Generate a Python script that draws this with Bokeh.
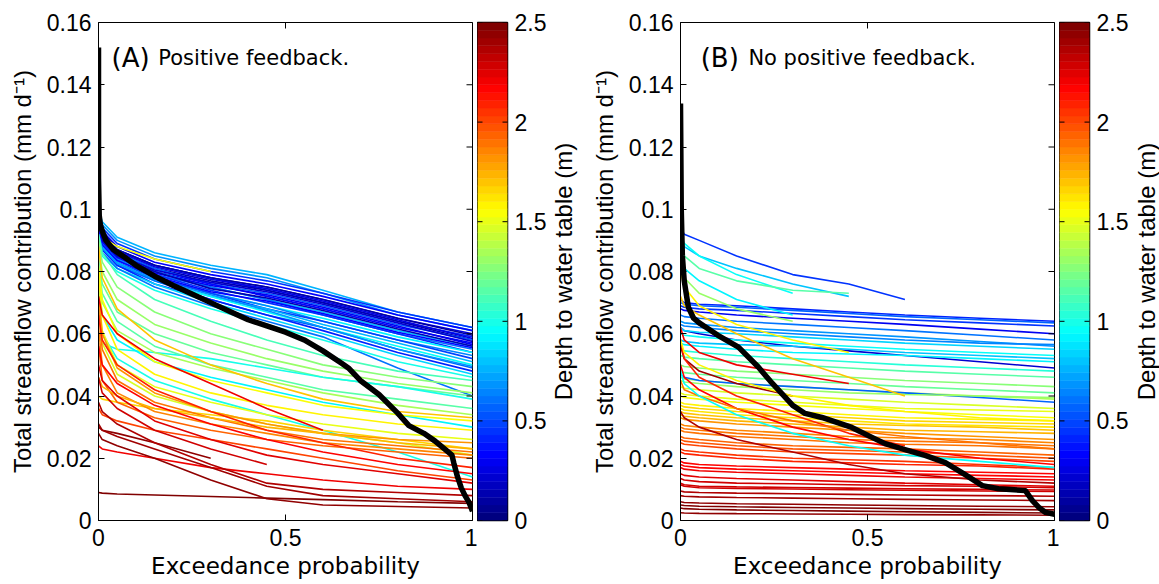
import math
from bokeh.plotting import figure
from bokeh.layouts import row
from bokeh.models import Range1d, FixedTicker, NumeralTickFormatter, Label, ColumnDataSource
from bokeh.transform import linear_cmap
from bokeh.embed import file_html
from bokeh.resources import INLINE

# ---------------- data ----------------
X_GRID = [0, 0.01, 0.05, 0.15, 0.3, 0.45, 0.6, 0.8, 1.0]
X_TICKS = [0, 0.5, 1]
Y_TICKS = [0, 0.02, 0.04, 0.06, 0.08, 0.1, 0.12, 0.14, 0.16]
CB_TICKS = [0, 0.5, 1, 1.5, 2, 2.5]
DEPTH_LOW, DEPTH_HIGH = 0.0, 2.5

# Panel A: blue/cyan cluster above the mean curve
A_UPPER_DEPTH = [0.75, 0.70, 0.45, 0.35, 0.25, 0.40, 0.15, 0.55, 0.35, 0.80, 0.60, 0.45,
                 0.90, 0.65, 0.50, 0.75, 0.95, 0.55, 0.40, 0.85, 0.60, 1.00, 0.10, 1.55,
                 0.25, 0.20, 0.30, 0.15, 0.35, 0.70]
A_UPPER_Y = [
    [0.100, 0.096, 0.091, 0.086, 0.082, 0.079, 0.074, 0.067, 0.062],
    [0.099, 0.095, 0.090, 0.085, 0.081, 0.078, 0.073, 0.066, 0.061],
    [0.098, 0.094, 0.089, 0.084, 0.080, 0.077, 0.073, 0.067, 0.062],
    [0.097, 0.093, 0.088, 0.083, 0.079, 0.076, 0.072, 0.066, 0.061],
    [0.097, 0.092, 0.087, 0.082, 0.078, 0.075, 0.071, 0.065, 0.060],
    [0.096, 0.092, 0.087, 0.082, 0.078, 0.074, 0.070, 0.064, 0.059],
    [0.096, 0.091, 0.086, 0.081, 0.077, 0.074, 0.070, 0.064, 0.058],
    [0.095, 0.091, 0.086, 0.081, 0.076, 0.073, 0.069, 0.063, 0.058],
    [0.095, 0.090, 0.085, 0.080, 0.076, 0.072, 0.068, 0.062, 0.057],
    [0.096, 0.091, 0.086, 0.080, 0.075, 0.071, 0.067, 0.061, 0.056],
    [0.094, 0.090, 0.085, 0.079, 0.075, 0.071, 0.066, 0.060, 0.055],
    [0.094, 0.089, 0.084, 0.079, 0.074, 0.070, 0.066, 0.060, 0.054],
    [0.095, 0.090, 0.084, 0.078, 0.073, 0.069, 0.065, 0.059, 0.054],
    [0.093, 0.089, 0.084, 0.078, 0.073, 0.069, 0.064, 0.058, 0.053],
    [0.093, 0.088, 0.083, 0.078, 0.073, 0.068, 0.064, 0.058, 0.052],
    [0.093, 0.088, 0.083, 0.077, 0.072, 0.068, 0.063, 0.057, 0.051],
    [0.094, 0.088, 0.082, 0.077, 0.072, 0.067, 0.062, 0.056, 0.050],
    [0.092, 0.087, 0.082, 0.077, 0.071, 0.066, 0.062, 0.055, 0.049],
    [0.092, 0.087, 0.082, 0.076, 0.071, 0.066, 0.061, 0.054, 0.048],
    [0.091, 0.086, 0.081, 0.076, 0.070, 0.065, 0.060, 0.053, 0.047],
    [0.091, 0.086, 0.081, 0.075, 0.069, 0.064, 0.059, 0.049, 0.040],
    [0.090, 0.085, 0.080, 0.074, 0.068, 0.063, 0.058, 0.051, 0.046],
    [0.097, 0.093, 0.087, 0.082, 0.078, 0.075, 0.071, 0.065, 0.0595],
    [0.094, 0.091, 0.088, 0.084, 0.080],
    [0.096, 0.092, 0.0865, 0.0815, 0.0775, 0.0745, 0.0705, 0.0645, 0.0585],
    [0.095, 0.0905, 0.0855, 0.0805, 0.0765, 0.0735, 0.0695, 0.0635, 0.0575],
    [0.094, 0.0895, 0.0845, 0.0795, 0.0755, 0.0725, 0.0685, 0.0625, 0.0565],
    [0.095, 0.090, 0.085, 0.080, 0.0745, 0.0715, 0.0675, 0.0615, 0.056],
    [0.093, 0.0885, 0.0835, 0.0785, 0.0735, 0.0705, 0.0665, 0.0605, 0.0555],
    [0.092, 0.0875, 0.0825, 0.0775, 0.0725, 0.0675, 0.062, 0.055, 0.0495],
]

# Panel A: green / yellow / orange / red curves below the mean curve
A_LOWER_DEPTH = [1.10, 1.25, 1.30, 1.20, 1.00, 1.15, 1.35, 0.90, 1.00,
                 1.55, 1.60, 1.50, 1.65, 1.45, 1.80, 1.90, 1.85, 1.95, 1.75, 2.00, 1.70,
                 2.20, 2.15, 2.25, 2.20, 2.30, 2.10, 2.45, 2.40, 2.50, 2.45, 2.35]
A_LOWER_Y = [
    [0.092, 0.086, 0.079, 0.071, 0.064, 0.058, 0.053, 0.048, 0.045],
    [0.090, 0.083, 0.075, 0.067, 0.060, 0.055, 0.050, 0.046, 0.043],
    [0.088, 0.080, 0.071, 0.063, 0.057, 0.052, 0.048, 0.044, 0.041],
    [0.085, 0.076, 0.067, 0.060, 0.054, 0.050, 0.046, 0.043, 0.040],
    [0.060, 0.057, 0.055, 0.054, 0.052, 0.049, 0.046, 0.043, 0.039],
    [0.083, 0.073, 0.064, 0.056, 0.050, 0.046, 0.042, 0.039, 0.036],
    [0.080, 0.070, 0.061, 0.054, 0.049, 0.045, 0.041, 0.037, 0.034],
    [0.075, 0.066, 0.058, 0.051, 0.046, 0.042, 0.038, 0.034, 0.030],
    [0.068, 0.060, 0.052, 0.045, 0.039, 0.034, 0.029, 0.022, 0.014],
    [0.082, 0.071, 0.060, 0.051, 0.045, 0.041, 0.037, 0.034, 0.032],
    [0.078, 0.066, 0.055, 0.047, 0.041, 0.037, 0.034, 0.031, 0.029],
    [0.074, 0.061, 0.050, 0.043, 0.038, 0.034, 0.031, 0.028, 0.026],
    [0.040, 0.039, 0.038, 0.036, 0.034, 0.032, 0.029, 0.026, 0.023],
    [0.070, 0.057, 0.047, 0.040, 0.035, 0.031, 0.028, 0.025, 0.021],
    [0.072, 0.060, 0.049, 0.041, 0.035, 0.031, 0.028, 0.026, 0.025],
    [0.068, 0.055, 0.045, 0.038, 0.033, 0.029, 0.026, 0.024, 0.022],
    [0.062, 0.050, 0.041, 0.035, 0.031, 0.028, 0.025, 0.023, 0.021],
    [0.057, 0.045, 0.038, 0.033, 0.029, 0.026, 0.024, 0.022, 0.020],
    [0.046, 0.043, 0.040, 0.036, 0.033, 0.030, 0.028, 0.025, 0.023],
    [0.036, 0.034, 0.032, 0.029, 0.026, 0.023, 0.020, 0.016, 0.013],
    [0.088, 0.078, 0.068, 0.058, 0.050, 0.044, 0.039, 0.035, 0.033],
    [0.072, 0.066, 0.060, 0.052, 0.044, 0.036, 0.029],
    [0.056, 0.050, 0.044, 0.037, 0.031, 0.026, 0.022, 0.018, 0.015],
    [0.050, 0.045, 0.040, 0.032, 0.026, 0.021, 0.018, 0.015, 0.012],
    [0.024, 0.023, 0.022, 0.020, 0.017, 0.015, 0.013, 0.011, 0.010],
    [0.046, 0.041, 0.036, 0.029, 0.023, 0.018],
    [0.066, 0.058, 0.050, 0.042, 0.035, 0.029, 0.025, 0.020, 0.017],
    [0.030, 0.029, 0.028, 0.025, 0.020],
    [0.031, 0.029, 0.027, 0.023, 0.017, 0.011, 0.008, 0.007, 0.006],
    [0.009, 0.0088, 0.0085, 0.0082, 0.0077, 0.0072, 0.0067, 0.006, 0.0055],
    [0.028, 0.026, 0.024, 0.020, 0.013, 0.007, 0.005, 0.0045, 0.004],
    [0.038, 0.035, 0.031, 0.025, 0.018, 0.012, 0.010, 0.009, 0.008],
]

# Panel A: mean curve (thick black)
A_MEAN_X = [0, 0, 0.002, 0.005, 0.01, 0.02, 0.04, 0.07, 0.1, 0.15, 0.2, 0.25, 0.3, 0.35, 0.4,
            0.45, 0.5, 0.55, 0.6, 0.65, 0.67, 0.7, 0.75, 0.8, 0.83, 0.87, 0.9, 0.93, 0.945,
            0.95, 0.96, 0.97, 0.98, 0.99, 1.0]
A_MEAN_Y = [0.152, 0.11, 0.098, 0.095, 0.093, 0.090, 0.087, 0.0846, 0.082, 0.0785, 0.0755,
            0.0728, 0.0700, 0.0672, 0.0645, 0.0625, 0.0605, 0.058, 0.0545, 0.0505, 0.0488,
            0.045, 0.0405, 0.0345, 0.0305, 0.0280, 0.0255, 0.0225, 0.021, 0.0185, 0.014,
            0.0105, 0.008, 0.006, 0.003]

# Panel B: declining curves that end early or cross the bands
B_CURVED_DEPTH = [0.45, 0.80, 0.95, 1.15, 0.90, 1.30, 1.60, 1.70, 2.20, 2.40, 2.10, 2.15,
                  1.90, 2.35, 1.60, 0.95]
B_CURVED_Y = [
    [0.094, 0.092, 0.090, 0.085, 0.079, 0.076, 0.071],
    [0.090, 0.088, 0.085, 0.081, 0.076, 0.072],
    [0.092, 0.089, 0.085, 0.079, 0.073],
    [0.088, 0.085, 0.081, 0.077, 0.074, 0.073],
    [0.085, 0.081, 0.077, 0.071, 0.066],
    [0.082, 0.078, 0.073, 0.068, 0.064],
    [0.080, 0.075, 0.069, 0.063, 0.058, 0.054],
    [0.072, 0.069, 0.066, 0.060, 0.052, 0.046, 0.040],
    [0.062, 0.058, 0.054, 0.050, 0.047, 0.044],
    [0.056, 0.052, 0.048, 0.044, 0.040],
    [0.058, 0.052, 0.046, 0.040, 0.034, 0.028, 0.024],
    [0.050, 0.046, 0.042, 0.036, 0.030, 0.026, 0.023, 0.020, 0.018],
    [0.045, 0.042, 0.040, 0.036, 0.032, 0.029, 0.027, 0.025, 0.023],
    [0.035, 0.033, 0.030, 0.026, 0.022, 0.018, 0.015, 0.013, 0.012],
    [0.058, 0.054, 0.050, 0.045, 0.040, 0.037, 0.035, 0.033, 0.032],
    [0.048, 0.044, 0.040, 0.034, 0.028, 0.024, 0.021, 0.019, 0.017],
]

# Panel B: nearly flat curves (stratified by depth)
B_FLAT_DEPTH = [0.40, 0.55, 0.30, 0.60, 0.70, 0.20, 0.85, 0.95, 0.90, 0.80,
                1.15, 1.25, 1.35, 1.20, 0.55, 1.45, 1.55, 1.65, 1.70, 1.60,
                1.80, 1.85, 1.90, 1.95, 2.00, 2.05, 2.15, 2.20, 2.25, 2.30, 2.30,
                2.40, 2.45, 2.50, 2.45,
                0.45, 0.65, 1.05, 1.30, 1.50, 1.62, 1.75, 1.88, 1.98, 2.08, 2.18, 2.28,
                2.35, 2.48]
B_FLAT_Y = [
    [0.071, 0.070, 0.0695, 0.069, 0.068, 0.067, 0.066, 0.065, 0.064],
    [0.070, 0.0695, 0.069, 0.0685, 0.0675, 0.0665, 0.0655, 0.0645, 0.0635],
    [0.068, 0.0675, 0.067, 0.066, 0.065, 0.064, 0.063, 0.0615, 0.060],
    [0.066, 0.0655, 0.065, 0.064, 0.063, 0.062, 0.061, 0.0595, 0.058],
    [0.064, 0.0635, 0.063, 0.062, 0.061, 0.060, 0.059, 0.0575, 0.056],
    [0.062, 0.061, 0.060, 0.058, 0.056, 0.0545, 0.053, 0.051, 0.049],
    [0.062, 0.061, 0.0605, 0.060, 0.059, 0.058, 0.057, 0.056, 0.055],
    [0.060, 0.0595, 0.059, 0.058, 0.057, 0.056, 0.055, 0.054, 0.053],
    [0.057, 0.0565, 0.056, 0.055, 0.054, 0.0535, 0.053, 0.052, 0.051],
    [0.058, 0.0575, 0.057, 0.0565, 0.056, 0.055, 0.054, 0.053, 0.052],
    [0.053, 0.0525, 0.052, 0.051, 0.050, 0.049, 0.048, 0.047, 0.046],
    [0.050, 0.0495, 0.049, 0.048, 0.047, 0.046, 0.045, 0.044, 0.043],
    [0.046, 0.0455, 0.045, 0.044, 0.043, 0.042, 0.041, 0.040, 0.039],
    [0.048, 0.0475, 0.047, 0.046, 0.045, 0.044, 0.043, 0.042, 0.041],
    [0.047, 0.046, 0.045, 0.044, 0.043, 0.042, 0.041, 0.0395, 0.038],
    [0.043, 0.0425, 0.042, 0.041, 0.040, 0.039, 0.038, 0.037, 0.036],
    [0.040, 0.0395, 0.039, 0.038, 0.037, 0.036, 0.035, 0.034, 0.033],
    [0.037, 0.0365, 0.036, 0.035, 0.034, 0.033, 0.032, 0.0315, 0.031],
    [0.035, 0.0345, 0.034, 0.033, 0.032, 0.031, 0.0305, 0.030, 0.029],
    [0.038, 0.0375, 0.037, 0.036, 0.035, 0.034, 0.033, 0.0325, 0.032],
    [0.033, 0.0325, 0.032, 0.031, 0.030, 0.029, 0.028, 0.027, 0.026],
    [0.031, 0.0305, 0.030, 0.029, 0.028, 0.027, 0.0265, 0.026, 0.025],
    [0.029, 0.0285, 0.028, 0.027, 0.026, 0.025, 0.0245, 0.024, 0.023],
    [0.027, 0.0265, 0.026, 0.025, 0.024, 0.0235, 0.023, 0.022, 0.021],
    [0.025, 0.0245, 0.024, 0.023, 0.022, 0.0215, 0.021, 0.020, 0.019],
    [0.023, 0.0225, 0.022, 0.021, 0.020, 0.0195, 0.019, 0.018, 0.017],
    [0.019, 0.0185, 0.018, 0.0175, 0.017, 0.0165, 0.016, 0.0155, 0.015],
    [0.017, 0.0165, 0.016, 0.0155, 0.015, 0.0145, 0.014, 0.0135, 0.013],
    [0.015, 0.0145, 0.014, 0.0135, 0.013, 0.0125, 0.012, 0.0115, 0.011],
    [0.012, 0.0115, 0.011, 0.0108, 0.0106, 0.0104, 0.0102, 0.010, 0.0098],
    [0.0115, 0.011, 0.0105, 0.0103, 0.0101, 0.0099, 0.0097, 0.0095, 0.0093],
    [0.008, 0.0078, 0.0076, 0.0074, 0.0072, 0.007, 0.0068, 0.0066, 0.0064],
    [0.006, 0.0058, 0.0056, 0.0054, 0.0052, 0.005, 0.0048, 0.0046, 0.0044],
    [0.004, 0.0038, 0.0036, 0.0034, 0.0032, 0.003, 0.0028, 0.0026, 0.0024],
    [0.0025, 0.0024, 0.0023, 0.0022, 0.0021, 0.002, 0.0019, 0.0018, 0.0017],
    [0.069, 0.0685, 0.068, 0.0675, 0.0665, 0.0655, 0.0645, 0.0635, 0.0625],
    [0.063, 0.0625, 0.062, 0.061, 0.060, 0.059, 0.058, 0.057, 0.0565],
    [0.055, 0.0545, 0.054, 0.053, 0.052, 0.051, 0.050, 0.049, 0.048],
    [0.045, 0.0445, 0.044, 0.043, 0.042, 0.041, 0.0405, 0.040, 0.0395],
    [0.041, 0.0405, 0.040, 0.039, 0.038, 0.037, 0.036, 0.0355, 0.035],
    [0.036, 0.0355, 0.035, 0.034, 0.033, 0.032, 0.031, 0.0305, 0.030],
    [0.034, 0.0335, 0.033, 0.032, 0.031, 0.030, 0.029, 0.0285, 0.028],
    [0.030, 0.0295, 0.029, 0.028, 0.027, 0.026, 0.0255, 0.025, 0.024],
    [0.026, 0.0255, 0.025, 0.024, 0.023, 0.0225, 0.022, 0.021, 0.020],
    [0.022, 0.0215, 0.021, 0.020, 0.019, 0.0185, 0.018, 0.0175, 0.0165],
    [0.018, 0.0175, 0.017, 0.0165, 0.016, 0.0155, 0.015, 0.0145, 0.014],
    [0.0135, 0.013, 0.0125, 0.012, 0.0118, 0.0115, 0.0112, 0.011, 0.0105],
    [0.0095, 0.0092, 0.009, 0.0088, 0.0086, 0.0084, 0.0082, 0.008, 0.0078],
    [0.005, 0.0048, 0.0046, 0.0044, 0.0042, 0.004, 0.0038, 0.0036, 0.0034],
]

# Panel B: mean curve (thick black)
B_MEAN_X = [0, 0.002, 0.005, 0.01, 0.021, 0.035, 0.05, 0.075, 0.1, 0.155, 0.208, 0.24, 0.271,
            0.3, 0.333, 0.378, 0.458, 0.512, 0.547, 0.6, 0.654, 0.708, 0.76, 0.807, 0.85,
            0.922, 0.941, 0.96, 0.976, 1.0]
B_MEAN_Y = [0.134, 0.1, 0.085, 0.077, 0.0685, 0.065, 0.0635, 0.0615, 0.0595, 0.0557, 0.0493,
            0.0448, 0.0408, 0.037, 0.0344, 0.0331, 0.0299, 0.0267, 0.0247, 0.0228, 0.0209,
            0.0186, 0.0148, 0.0112, 0.0102, 0.0096, 0.0064, 0.004, 0.0026, 0.002]

CB_TITLE = "Depth to water table (m)"


# ---------------- styling helpers ----------------
def jet(n=64):
    cols = []
    for i in range(n):
        t = i / (n - 1)
        r = min(max(1.5 - abs(4 * t - 3), 0), 1)
        g = min(max(1.5 - abs(4 * t - 2), 0), 1)
        b = min(max(1.5 - abs(4 * t - 1), 0), 1)
        cols.append("#%02x%02x%02x" % (round(r * 255), round(g * 255), round(b * 255)))
    return cols


JET = jet(64)
TICK_FONT = "Liberation Sans"
TICK_SIZE = "23px"
FRAME_H = 498
TOP, BOTTOM = 22, 64


def make_panel(depth_groups, mean_x, mean_y, letter, caption, border_left):
    p = figure(frame_width=374, frame_height=FRAME_H, x_range=Range1d(0, 1), y_range=Range1d(0, 0.16),
               output_backend="svg", toolbar_location=None,
               min_border_left=border_left, min_border_right=5, min_border_top=TOP, min_border_bottom=BOTTOM)
    p.grid.visible = False
    p.outline_line_color = "black"
    p.outline_line_width = 1
    p.background_fill_color = "white"
    p.border_fill_color = "white"

    xs, ys, ds = [], [], []
    for depths, curves in depth_groups:
        for d, yv in zip(depths, curves):
            xs.append(X_GRID[:len(yv)])
            ys.append(yv)
            ds.append(d)
    src = ColumnDataSource(dict(xs=xs, ys=ys, d=ds))
    p.multi_line("xs", "ys", source=src, line_width=1.6,
                 line_color=linear_cmap("d", JET, DEPTH_LOW, DEPTH_HIGH))
    p.line(mean_x, mean_y, line_color="black", line_width=5.5, line_join="round")

    # mirrored inward ticks on the top and right edges of the box
    p.scatter(x=[1] * len(Y_TICKS), y=Y_TICKS, marker="dash", size=12, line_color="black", line_width=1)
    p.scatter(x=X_TICKS, y=[0.16] * len(X_TICKS), marker="dash", angle=math.pi / 2, size=12,
              line_color="black", line_width=1)

    p.xaxis.ticker = FixedTicker(ticks=X_TICKS)
    p.yaxis.ticker = FixedTicker(ticks=Y_TICKS)
    p.xaxis.formatter = NumeralTickFormatter(format="0.[0]")
    p.yaxis.formatter = NumeralTickFormatter(format="0.[00]")
    for ax in (p.xaxis[0], p.yaxis[0]):
        ax.major_tick_in = 6
        ax.major_tick_out = 0
        ax.minor_tick_line_color = None
        ax.major_label_text_font = TICK_FONT
        ax.major_label_text_font_size = TICK_SIZE
        ax.major_label_text_color = "black"
        ax.axis_line_color = "black"
        ax.major_tick_line_color = "black"
        ax.axis_label_text_font_style = "normal"
        ax.axis_label_text_color = "black"
    p.xaxis.major_label_standoff = 8
    p.yaxis.major_label_standoff = 7
    p.xaxis.axis_label = "Exceedance probability"
    p.xaxis.axis_label_text_font = "DejaVu Sans"
    p.xaxis.axis_label_text_font_size = "23px"
    p.xaxis.axis_label_standoff = 4
    p.yaxis.axis_label = "Total streamflow contribution (mm d\u207b\u00b9)"
    p.yaxis.axis_label_text_font = TICK_FONT
    p.yaxis.axis_label_text_font_size = "24px"
    p.yaxis.axis_label_standoff = 8

    p.add_layout(Label(x=letter[1], y=0.1485, text=letter[0], text_font="DejaVu Sans",
                       text_font_size="26px", text_baseline="alphabetic", text_color="black"))
    p.add_layout(Label(x=caption[1], y=0.1485, text=caption[0], text_font="DejaVu Sans",
                       text_font_size="21px", text_baseline="alphabetic", text_color="black"))
    return p


def make_colorbar():
    c = figure(frame_width=30, frame_height=FRAME_H, x_range=Range1d(0, 1),
               y_range=Range1d(DEPTH_LOW, DEPTH_HIGH), output_backend="svg", toolbar_location=None,
               x_axis_location=None, y_axis_location="right",
               min_border_left=0, min_border_right=41, min_border_top=TOP, min_border_bottom=BOTTOM)
    c.grid.visible = False
    n = len(JET)
    step = (DEPTH_HIGH - DEPTH_LOW) / n
    bottoms = [DEPTH_LOW + i * step for i in range(n)]
    tops = [b + step for b in bottoms]
    c.quad(left=0, right=1, bottom=bottoms, top=tops, fill_color=JET, line_color=JET, line_width=0.5)
    # inward ticks on both sides of the colour bar
    c.scatter(x=[0] * len(CB_TICKS), y=CB_TICKS, marker="dash", size=10, line_color="black", line_width=1)
    c.scatter(x=[1] * len(CB_TICKS), y=CB_TICKS, marker="dash", size=10, line_color="black", line_width=1)
    c.outline_line_color = "black"
    c.outline_line_width = 1.5
    ax = c.yaxis[0]
    ax.ticker = FixedTicker(ticks=CB_TICKS)
    ax.formatter = NumeralTickFormatter(format="0.[0]")
    ax.major_tick_in = 0
    ax.major_tick_out = 0
    ax.minor_tick_line_color = None
    ax.axis_line_color = None
    ax.major_label_text_font = TICK_FONT
    ax.major_label_text_font_size = TICK_SIZE
    ax.major_label_text_color = "black"
    ax.major_label_standoff = 7
    return c


def make_cb_title(width, x_center):
    # a narrow strip holding the colour-bar title, reading bottom to top
    t = figure(frame_width=width, frame_height=FRAME_H, x_range=Range1d(0, width), y_range=Range1d(0, 1),
               output_backend="svg", toolbar_location=None, x_axis_location=None, y_axis_location=None,
               min_border_left=0, min_border_right=0, min_border_top=TOP, min_border_bottom=BOTTOM)
    t.grid.visible = False
    t.outline_line_color = None
    t.add_layout(Label(x=x_center, y=0.5, text=CB_TITLE, angle=math.pi / 2,
                       text_align="center", text_baseline="middle",
                       text_font=TICK_FONT, text_font_size="24px", text_color="black"))
    return t


pa = make_panel([(A_UPPER_DEPTH, A_UPPER_Y), (A_LOWER_DEPTH, A_LOWER_Y)], A_MEAN_X, A_MEAN_Y,
                ("(A)", 0.035), ("Positive feedback.", 0.16), 98)
ca = make_colorbar()
ta = make_cb_title(32, 14)
pb = make_panel([(B_FLAT_DEPTH, B_FLAT_Y), (B_CURVED_DEPTH, B_CURVED_Y)], B_MEAN_X, B_MEAN_Y,
                ("(B)", 0.054), ("No positive feedback.", 0.1815), 99)
cb = make_colorbar()
tb = make_cb_title(30, 15)

layout = row(pa, ca, ta, pb, cb, tb)
open("out.html", "w").write(file_html(layout, INLINE))
